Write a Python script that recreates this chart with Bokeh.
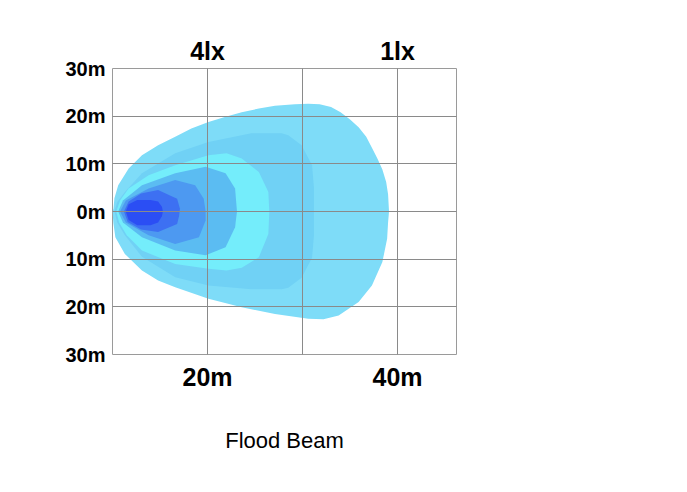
from bokeh.plotting import figure
from bokeh.models import LinearAxis, FixedTicker, Range1d, Title, Grid
from bokeh.embed import file_html
from bokeh.resources import INLINE

# Illuminance contours (distance ahead in m, lateral offset in m), outermost first
lux_1_x = [10.0, 10.1, 10.2, 10.6, 11.7, 13.1, 14.8, 16.6, 18.3, 20.1, 21.9, 23.6, 25.4, 27.1, 29.2, 30.6, 31.8, 33.0,
           34.0, 35.0, 35.9, 36.7, 37.3, 37.9, 38.4, 38.8, 39.0, 39.1,
           39.0, 38.9, 38.4, 37.3, 35.9, 33.8, 32.2, 30.6, 27.1, 23.6, 20.1, 16.6, 14.8, 13.1, 11.3, 10.3, 10.1]
lux_1_y = [0.0, 0.6, 2.8, 5.5, 9.0, 11.8, 13.9, 15.7, 17.4, 18.8, 19.9, 20.8, 21.6, 22.2, 22.5, 22.6, 22.5, 21.9,
           20.8, 19.3, 17.7, 15.7, 13.4, 11.0, 8.8, 6.2, 3.6, 0.0,
           -2.3, -5.7, -10.6, -15.5, -19.0, -21.8, -22.6, -22.5, -21.5, -20.1, -18.3, -15.9, -14.5, -12.4, -8.9, -5.4, -2.5]

lux_2_x = [10.2, 10.5, 11.3, 13.1, 16.6, 20.1, 24.6, 27.8, 28.5, 29.9, 31.0, 31.2, 31.2,
           31.2, 31.0, 29.9, 28.5, 27.8, 24.6, 20.1, 16.6, 13.1, 11.3, 10.5]
lux_2_y = [0.0, 2.0, 4.1, 8.0, 12.2, 14.6, 16.4, 16.4, 16.0, 13.9, 9.7, 5.0, 0.0,
           -5.0, -9.7, -13.9, -16.0, -16.3, -16.3, -15.5, -13.8, -9.5, -5.0, -2.3]

lux_4_x = [10.4, 10.8, 11.7, 13.8, 16.6, 20.1, 22.0, 23.6, 25.4, 26.4, 26.5,
           26.4, 25.4, 23.6, 22.0, 20.1, 16.6, 13.1, 11.5, 10.7]
lux_4_y = [0.0, 2.3, 4.8, 7.6, 9.7, 11.8, 12.2, 11.1, 8.3, 4.1, 0.0,
           -4.7, -9.6, -11.8, -12.4, -12.0, -11.0, -8.2, -5.0, -2.3]

lux_8_x = [10.6, 11.1, 13.1, 16.6, 19.8, 21.9, 22.9, 23.1,
           22.9, 21.9, 19.8, 16.6, 13.1, 11.1]
lux_8_y = [0.0, 2.3, 5.5, 8.0, 9.4, 8.0, 4.8, 0.0,
           -3.3, -7.5, -9.2, -8.2, -5.4, -2.3]

lux_16_x = [10.8, 11.4, 13.8, 16.6, 18.7, 19.6, 19.8,
            19.8, 19.1, 16.6, 13.8, 11.4]
lux_16_y = [0.0, 2.3, 4.8, 6.6, 5.5, 2.7, 0.0,
            -1.9, -5.4, -6.8, -5.0, -2.3]

lux_32_x = [11.2, 11.7, 13.0, 14.8, 16.8, 17.1,
            17.0, 16.8, 14.8, 13.0, 11.6]
lux_32_y = [0.0, 2.1, 3.8, 4.5, 2.7, 0.6,
            -1.0, -2.6, -4.3, -3.8, -2.2]

lux_64_x = [11.4, 11.7, 12.6, 14.0, 14.8, 15.2, 15.3,
            15.2, 14.8, 14.0, 12.6, 11.7]
lux_64_y = [0.0, 1.5, 2.4, 2.4, 2.1, 1.0, 0.0,
            -1.0, -2.3, -2.9, -2.9, -1.8]

contour_colors = ["#7edcf8", "#70d1f5", "#74edfb", "#5bbcf2", "#4d99f1", "#3d70f2", "#2b4ef4"]

y_ticks = [-30, -20, -10, 0, 10, 20, 30]
y_tick_labels = ["30m", "20m", "10m", "0m", "10m", "20m", "30m"]
x_ticks = [10, 20, 30, 40]
x_tick_labels = ["", "20m", "", "40m"]
top_tick_labels = ["", "4lx", "", "1lx"]
title_text = "Flood Beam"

FONT = "Liberation Sans"

p = figure(output_backend="svg", toolbar_location=None,
           frame_width=344, frame_height=286,
           min_border_left=112, min_border_right=215,
           min_border_top=68, min_border_bottom=122,
           x_range=Range1d(10, 46.2), y_range=Range1d(-30, 30),
           x_axis_location=None, y_axis_location=None,
           background_fill_color="white", border_fill_color="white")

p.outline_line_color = "#9a9a9a"
p.outline_line_width = 1

xs = [lux_1_x, lux_2_x, lux_4_x, lux_8_x, lux_16_x, lux_32_x, lux_64_x]
ys = [lux_1_y, lux_2_y, lux_4_y, lux_8_y, lux_16_y, lux_32_y, lux_64_y]
p.patches(xs=xs, ys=ys, fill_color=contour_colors, line_color=None)

# axes
yax = LinearAxis(ticker=FixedTicker(ticks=y_ticks),
                 major_label_overrides={t: l for t, l in zip(y_ticks, y_tick_labels)})
bx = LinearAxis(ticker=FixedTicker(ticks=x_ticks),
                major_label_overrides={t: l for t, l in zip(x_ticks, x_tick_labels)})
tx = LinearAxis(ticker=FixedTicker(ticks=x_ticks),
                major_label_overrides={t: l for t, l in zip(x_ticks, top_tick_labels)})
for ax in (yax, bx, tx):
    ax.axis_line_color = None
    ax.major_tick_line_color = None
    ax.minor_tick_line_color = None
    ax.major_tick_out = 0
    ax.major_tick_in = 0
    ax.major_label_text_font = FONT
    ax.major_label_text_font_style = "bold"
    ax.major_label_text_color = "black"
yax.major_label_text_font_size = "20px"
yax.major_label_standoff = 7
bx.major_label_text_font_size = "25px"
bx.major_label_standoff = 8
tx.major_label_text_font_size = "25px"
tx.major_label_standoff = 4
p.add_layout(yax, "left")
p.add_layout(bx, "below")
p.add_layout(tx, "above")

p.add_layout(Title(text=title_text, align="center", text_font=FONT, text_font_size="22px",
                   text_font_style="normal", text_color="black", standoff=65), "below")

p.xgrid.visible = False
p.ygrid.visible = False
gx = Grid(dimension=0, ticker=FixedTicker(ticks=x_ticks), grid_line_color="#8a8a8a", level="overlay")
gy = Grid(dimension=1, ticker=FixedTicker(ticks=y_ticks), grid_line_color="#8a8a8a", level="overlay")
p.add_layout(gx)
p.add_layout(gy)

open("out.html", "w").write(file_html(p, INLINE))
